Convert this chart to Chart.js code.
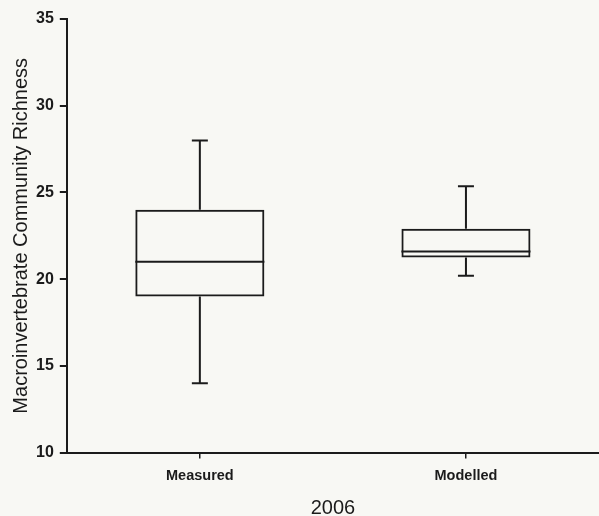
<!DOCTYPE html>
<html>
<head>
<meta charset="utf-8">
<script src="https://cdn.jsdelivr.net/npm/chart.js@4"></script>
<style>
  html, body { margin: 0; padding: 0; background: #f8f8f4; }
</style>
</head>
<body>
<canvas id="myChart" width="599" height="516"></canvas>
<script>
// box plot values
const categories = ["Measured", "Modelled"];
const whiskerLow = [14, 20.2];
const q1 = [19, 21.25];
const median = [21, 21.6];
const q3 = [24, 22.9];
const whiskerHigh = [28, 25.35];
const yTicks = [10, 15, 20, 25, 30, 35];

const ink = "#1b1b1b";

const background = {
  id: "background",
  beforeDraw(chart) {
    const { ctx } = chart;
    ctx.save();
    ctx.fillStyle = "#f8f8f4";
    ctx.fillRect(0, 0, chart.width, chart.height);
    ctx.restore();
  },
};

// medians and whiskers, placed with the chart's own scales
const boxWhiskers = {
  id: "boxWhiskers",
  afterDatasetsDraw(chart) {
    const { ctx, scales: { x, y } } = chart;
    const bars = chart.getDatasetMeta(0).data;
    const cap = 8;
    ctx.save();
    ctx.strokeStyle = ink;
    ctx.lineWidth = 2;
    categories.forEach((c, i) => {
      const cx = x.getPixelForValue(i);
      const half = bars[i].width / 2;
      const yMed = y.getPixelForValue(median[i]);
      const yHi = y.getPixelForValue(whiskerHigh[i]);
      const yLo = y.getPixelForValue(whiskerLow[i]);
      ctx.beginPath();
      ctx.moveTo(cx - half, yMed);
      ctx.lineTo(cx + half, yMed);
      ctx.moveTo(cx, y.getPixelForValue(q3[i]));
      ctx.lineTo(cx, yHi);
      ctx.moveTo(cx - cap, yHi);
      ctx.lineTo(cx + cap, yHi);
      ctx.moveTo(cx, y.getPixelForValue(q1[i]));
      ctx.lineTo(cx, yLo);
      ctx.moveTo(cx - cap, yLo);
      ctx.lineTo(cx + cap, yLo);
      ctx.stroke();
    });
    ctx.restore();
  },
};

const ctx = document.getElementById("myChart");

let chart = new Chart(ctx, {
  type: "bar",
  data: {
    labels: categories,
    datasets: [
      {
        label: "IQR",
        data: categories.map((c, i) => [q1[i], q3[i]]),
        backgroundColor: "rgba(0,0,0,0)",
        borderColor: ink,
        borderWidth: 2,
        borderSkipped: false,
        barPercentage: 0.485,
        categoryPercentage: 1,
      },
    ],
  },
  options: {
    responsive: false,
    animation: false,
    layout: { padding: { top: 19, right: 0, bottom: 0, left: 9 } },
    plugins: {
      legend: { display: false },
      tooltip: { enabled: false },
    },
    scales: {
      x: {
        offset: true,
        grid: {
          offset: false,
          drawOnChartArea: false,
          drawTicks: true,
          tickLength: 6,
          color: ink,
          lineWidth: 1.5,
        },
        border: { display: true, color: ink, width: 2 },
        ticks: {
          color: ink,
          padding: 9,
          font: { family: "Liberation Sans", size: 14.5, weight: "bold" },
        },
        title: {
          display: true,
          text: "2006",
          color: ink,
          padding: { top: 2, bottom: -4 },
          font: { family: "Liberation Sans", size: 20 },
        },
      },
      y: {
        min: 10,
        max: 35,
        afterBuildTicks(scale) {
          scale.ticks = yTicks.map((v) => ({ value: v }));
        },
        grid: {
          drawOnChartArea: false,
          drawTicks: true,
          tickLength: 7,
          color: ink,
          lineWidth: 2,
        },
        border: { display: true, color: ink, width: 2 },
        ticks: {
          color: ink,
          padding: 6,
          font: { family: "Liberation Sans", size: 16, weight: "bold" },
        },
        title: {
          display: true,
          text: "Macroinvertebrate Community Richness",
          color: ink,
          padding: { top: 0, bottom: -3 },
          font: { family: "Liberation Sans", size: 20 },
        },
      },
    },
  },
  plugins: [background, boxWhiskers],
});
</script>
</body>
</html>
